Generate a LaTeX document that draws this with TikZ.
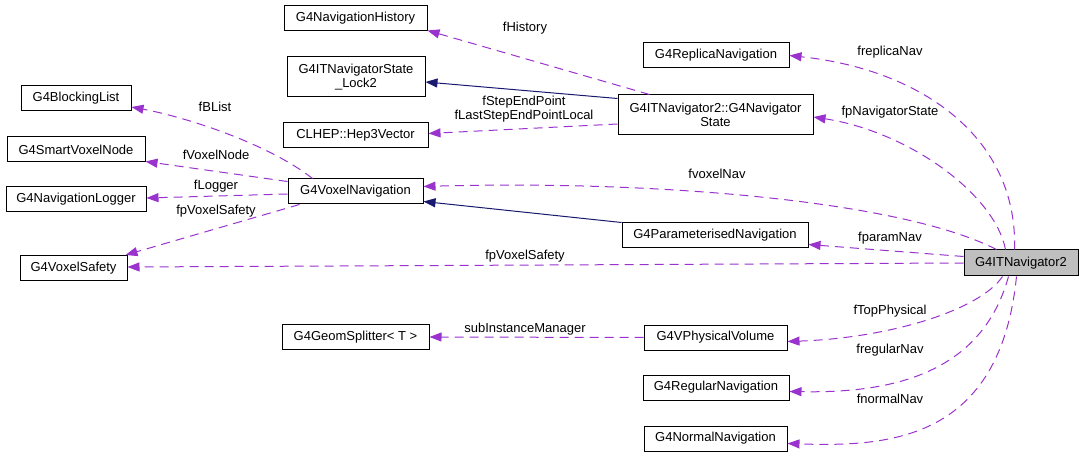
\documentclass[tikz,border=0pt]{standalone}
\usepackage{fontspec}
\setmainfont{Liberation Sans}
\usetikzlibrary{arrows.meta,calc}
\definecolor{orch}{RGB}{154,50,205}
\definecolor{mnavy}{RGB}{25,25,112}
\definecolor{gfill}{RGB}{191,191,191}
\begin{document}
\begin{tikzpicture}[x=1pt,y=-1pt,
  cls/.style={draw=black,line width=1pt,fill=white,inner sep=0pt,minimum height=25pt,font=\fontsize{13}{14}\selectfont,align=center},
  lbl/.style={font=\fontsize{13}{14}\selectfont,inner sep=0pt,align=center},
  uses/.style={draw=orch,line width=1pt,dash pattern=on 9pt off 6pt,-{Triangle[length=12pt,width=9pt]}},
  inh/.style={draw=mnavy,line width=1pt,-{Triangle[length=12pt,width=9pt]}}]
\useasboundingbox (0,0) rectangle (1085,457);
% class boxes
\node[cls,minimum width=143pt] (hist) at (355.5,18.5) {G4NavigationHistory};
\node[cls,minimum width=138pt,minimum height=40pt] (lock) at (356,77) {G4ITNavigatorState\\\_Lock2};
\node[cls,minimum width=145pt] (hep) at (355.5,135.5) {CLHEP::Hep3Vector};
\node[cls,minimum width=110pt] (blist) at (76,98.5) {G4BlockingList};
\node[cls,minimum width=138pt] (svn) at (76,149.5) {G4SmartVoxelNode};
\node[cls,minimum width=140pt] (logger) at (76,199.5) {G4NavigationLogger};
\node[cls,minimum width=135pt] (voxnav) at (355.5,191.5) {G4VoxelNavigation};
\node[cls,minimum width=107pt] (voxsafe) at (73.5,268) {G4VoxelSafety};
\node[cls,minimum width=147pt] (geom) at (355.5,337) {G4GeomSplitter< T >};
\node[cls,minimum width=146pt] (replica) at (716,55.5) {G4ReplicaNavigation};
\node[cls,minimum width=195pt,minimum height=40pt] (navstate) at (715.5,115) {G4ITNavigator2::G4Navigator\\State};
\node[cls,minimum width=186pt] (param) at (715,235.5) {G4ParameterisedNavigation};
\node[cls,minimum width=114pt,minimum height=26pt,fill=gfill] (itnav) at (1021,263) {G4ITNavigator2};
\node[cls,minimum width=143pt] (physvol) at (715.5,337.5) {G4VPhysicalVolume};
\node[cls,minimum width=146pt] (regular) at (716,387.5) {G4RegularNavigation};
\node[cls,minimum width=143pt] (normal) at (715.5,438.5) {G4NormalNavigation};
% connectors from G4ITNavigator2
\draw[uses] ($(itnav.north west)+(51,0)$) .. controls (1018,140) and (925,70) .. (replica.east);
\draw[uses] ($(itnav.north west)+(42,0)$) .. controls (995,195) and (910,132) .. ($(navstate.east)+(0,2)$);
\draw[uses] ($(itnav.north west)+(33,0)$) .. controls (900,200) and (650,180) .. ($(voxnav.north east)+(0,8)$);
\draw[uses] ($(itnav.north west)+(0,7)$) -- ($(param.south east)+(0,-4)$);
\draw[uses] (itnav.west) -- ($(voxsafe.east)+(0,-1)$);
\draw[uses] ($(itnav.south west)+(39,0)$) .. controls (980,310) and (890,338) .. ($(physvol.east)+(0,4)$);
\draw[uses] ($(itnav.south west)+(45,0)$) .. controls (980,380) and (880,393) .. ($(regular.east)+(0,4)$);
\draw[uses] ($(itnav.south west)+(53,0)$) .. controls (1000,440) and (890,447) .. ($(normal.east)+(0,5)$);
% other connectors
\draw[uses] (physvol.west) -- (geom.east);
\draw[uses] ($(navstate.north west)+(32,0)$) -- ($(hist.south east)+(0,-1)$);
\draw[uses] ($(navstate.west)+(0,9)$) -- ($(hep.east)+(0,-2)$);
\draw[inh] ($(navstate.north west)+(0,4)$) -- ($(lock.east)+(0,5)$);
\draw[inh] (param.north west) -- ($(voxnav.south east)+(0,-3)$);
\draw[uses] ($(voxnav.north west)+(25,0)$) .. controls (270,145) and (190,118) .. ($(blist.east)+(0,8.5)$);
\draw[uses] ($(voxnav.north west)+(0,3)$) -- ($(svn.south east)+(0,-1)$);
\draw[uses] ($(voxnav.west)+(0,2.5)$) -- ($(logger.east)+(0,-1.5)$);
\draw[uses] ($(voxnav.south west)+(12,0)$) -- ($(voxsafe.north east)+(-2,0)$);
% labels
\node[lbl] (lrep) at (890,52) {freplicaNav};
\node[lbl] (lnst) at (890,112) {fpNavigatorState};
\node[lbl] (lvox) at (717,174) {fvoxelNav};
\node[lbl] (lpar) at (890,238) {fparamNav};
\node[lbl] (lvsa) at (525,256) {fpVoxelSafety};
\node[lbl] (ltop) at (890,311) {fTopPhysical};
\node[lbl] (lreg) at (890,350) {fregularNav};
\node[lbl] (lnor) at (890,399) {fnormalNav};
\node[lbl] (lsub) at (525,329) {subInstanceManager};
\node[lbl] (lhis) at (525,28) {fHistory};
\node[lbl] (lstep) at (524,109.5) {fStepEndPoint\\fLastStepEndPointLocal};
\node[lbl] (lbli) at (215,107) {fBList};
\node[lbl] (lvno) at (216,155) {fVoxelNode};
\node[lbl] (llog) at (216,186) {fLogger};
\node[lbl] (lvsb) at (216,211) {fpVoxelSafety};
\end{tikzpicture}
\end{document}
